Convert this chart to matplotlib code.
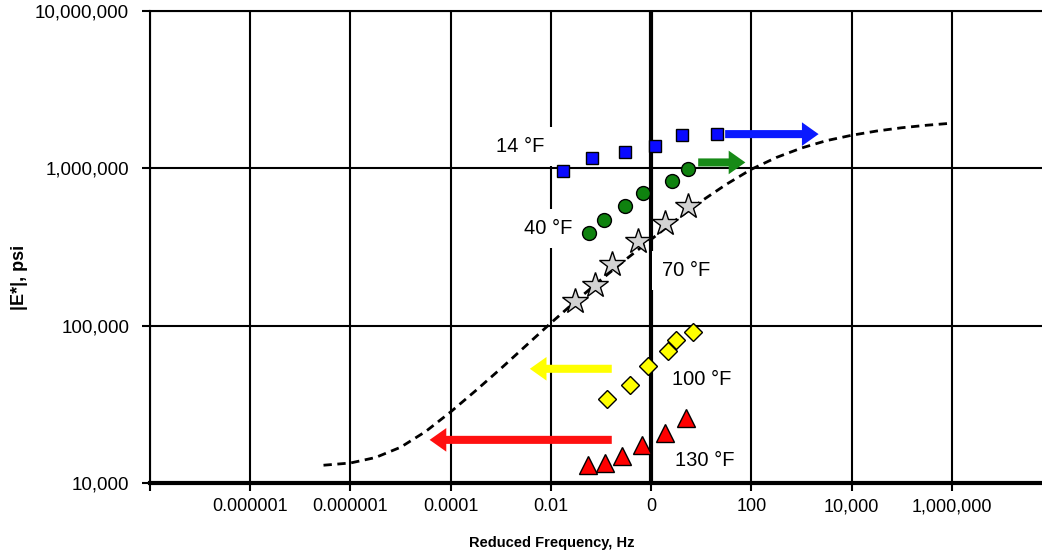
import matplotlib
matplotlib.use("Agg")
import matplotlib.pyplot as plt
from matplotlib import font_manager
from matplotlib.ticker import FixedLocator, NullLocator

plt.rcParams['font.family'] = ['Liberation Sans', 'DejaVu Sans']

# --- data ---
f14 = [0.0171, 0.0652, 0.306, 1.20, 4.23, 20.9]
e14 = [961000, 1158000, 1277000, 1387000, 1622000, 1652000]

f40 = [0.0583, 0.113, 0.302, 0.702, 2.59, 5.42]
e40 = [389000, 469000, 575000, 697000, 835000, 986000]

f70 = [0.0302, 0.0759, 0.166, 0.557, 1.91, 5.57]
e70 = [143000, 182000, 248000, 344000, 447000, 575000]

f100 = [0.132, 0.385, 0.859, 2.16, 3.21, 6.92]
e100 = [34300, 41900, 55300, 69000, 81400, 91200]

f130 = [0.0557, 0.120, 0.259, 0.670, 1.91, 5.08]
e130 = [13000, 13350, 14850, 17400, 20900, 25800]

# master curve (read every half decade)
curve_f = [2.9e-7, 1e-6, 3.16e-6, 1e-5, 3.16e-5, 1e-4, 3.16e-4, 1e-3, 3.16e-3,
           1e-2, 3.16e-2, 1e-1, 0.316, 1, 3.16, 10, 31.6, 100, 316, 1e3, 3162,
           1e4, 31623, 1e5, 316228, 1e6]
curve_e = [12970, 13400, 14520, 16870, 21230, 28310, 38640, 53330, 74470,
           104000, 143600, 195900, 264200, 353200, 471000, 618000, 790700,
           986300, 1172000, 1346000, 1500000, 1622000, 1726000, 1811000,
           1879000, 1936000]

# shift arrows: (tail freq, tip freq, modulus)
arrow_tail = [30, 8.7, 0.164, 0.164]
arrow_tip = [2200, 76, 0.0038, 3.8e-5]
arrow_e = [1650000, 1090000, 53200, 18800]
arrow_colors = ["#0a1aff", "#178a17", "#ffff00", "#ff1010"]

# temperature labels
label_text = ["14 °F", "40 °F", "70 °F", "100 °F", "130 °F"]
label_f = [0.0024, 0.0087, 5.0, 10.0, 11.5]
label_e = [1380000, 415000, 224000, 45300, 14000]
label_boxed = [True, True, True, False, False]

x_ticks = [1e-10, 1e-8, 1e-6, 1e-4, 1e-2, 1, 1e2, 1e4, 1e6]
x_tick_labels = ["", "0.000001", "0.000001", "0.0001", "0.01", "0", "100", "10,000", "1,000,000"]
y_ticks = [1e4, 1e5, 1e6, 1e7]
y_tick_labels = ["10,000", "100,000", "1,000,000", "10,000,000"]

fig = plt.figure(figsize=(10.42, 5.6), dpi=100)
ax = fig.add_axes([150 / 1042, 1 - 483 / 560, 902 / 1042, 472 / 560])
ax.set_xscale("log")
ax.set_yscale("log")
ax.set_xlim(1e-10, 1e8)
ax.set_ylim(1e4, 1e7)

ax.xaxis.set_major_locator(FixedLocator(x_ticks))
ax.xaxis.set_minor_locator(NullLocator())
ax.yaxis.set_major_locator(FixedLocator(y_ticks))
ax.yaxis.set_minor_locator(NullLocator())
ax.set_xticklabels(x_tick_labels, fontsize=13)
ax.set_yticklabels(y_tick_labels, fontsize=13.5)
ax.tick_params(axis="x", direction="out", length=6, width=1.5, pad=5)
ax.tick_params(axis="y", direction="out", length=6, width=1.5, pad=9)

ax.grid(True, which="major", color="black", linewidth=1.5, zorder=0)
ax.set_axisbelow(True)
for s in ["top", "left", "right"]:
    ax.spines[s].set_linewidth(1.5)
ax.spines["bottom"].set_linewidth(3)
ax.axvline(1, color="black", linewidth=3, zorder=1)

ax.plot(curve_f, curve_e, color="black", linestyle=(0, (3, 2)), linewidth=2, zorder=2)

# labels (boxed ones hide the gridlines behind them)
for t, fx, ey, boxed in zip(label_text, label_f, label_e, label_boxed):
    kw = {}
    if boxed:
        kw["bbox"] = dict(boxstyle="square,pad=0.5", facecolor="white", edgecolor="none")
    ax.text(fx, ey, t, fontsize=14.5, ha="center", va="center", zorder=2.5, **kw)

mk = dict(linestyle="none", markeredgecolor="black", markeredgewidth=1.0, zorder=4)
ax.plot(f14, e14, marker="s", markersize=9, markerfacecolor="#0a0aff", **mk)
ax.plot(f40, e40, marker="o", markersize=10, markerfacecolor="#0f820f", **mk)
ax.plot(f70, e70, marker="*", markersize=19, markerfacecolor="#d3d3d3", **mk)
ax.plot(f100, e100, marker="D", markersize=9, markerfacecolor="#ffff00", **mk)
ax.plot(f130, e130, marker="^", markersize=13, markerfacecolor="#ff0000", **mk)

for x0, x1, ey, c in zip(arrow_tail, arrow_tip, arrow_e, arrow_colors):
    ax.annotate("", xy=(x1, ey), xytext=(x0, ey),
                arrowprops=dict(arrowstyle="simple,head_length=1.2,head_width=1.7,tail_width=0.58",
                                mutation_scale=10, facecolor=c, edgecolor="none",
                                shrinkA=0, shrinkB=0), zorder=3)

names = {f.name for f in font_manager.fontManager.ttflist}
if "Liberation Sans Narrow" in names:
    fig.text(552 / 1042, 1 - 543 / 560, "Reduced Frequency, Hz", family="Liberation Sans Narrow",
             fontsize=12.5, fontweight="bold", ha="center", va="center")
else:
    fig.text(552 / 1042, 1 - 543 / 560, "Reduced Frequency, Hz", fontsize=10.5,
             fontweight="bold", ha="center", va="center")
fig.text(20 / 1042, 1 - 277 / 560, "|E*|, psi", fontsize=13, fontweight="bold",
         rotation=90, ha="center", va="center")

fig.savefig("out.png", dpi=100)
